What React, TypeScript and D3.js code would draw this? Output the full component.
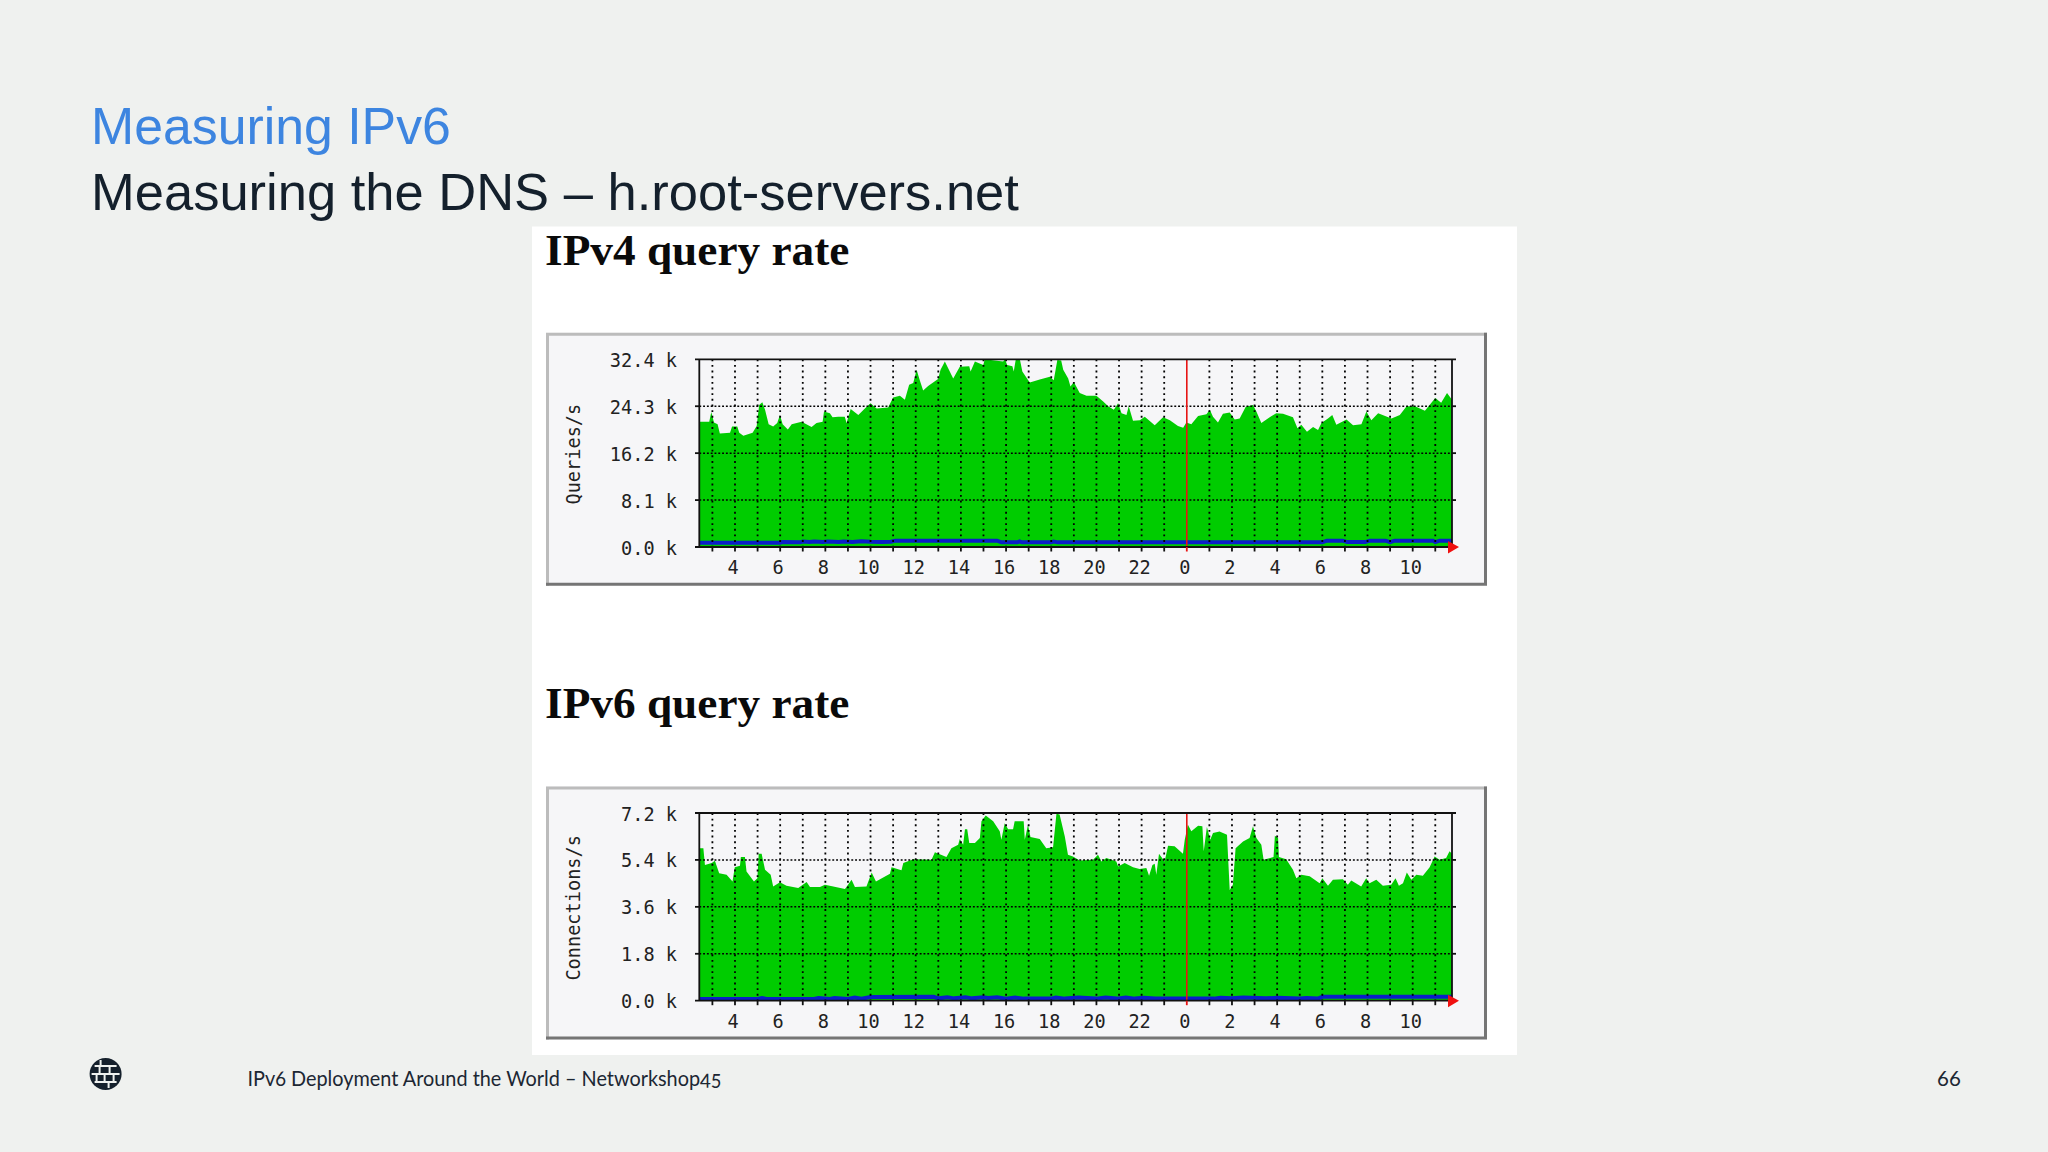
import * as d3 from "d3";

const WIDTH = 2048;
const HEIGHT = 1152;
const BG = "#eff1ef";
const MONO = "'DejaVu Sans Mono', monospace";

// hour of day on the time axis, values past 24 are the next morning
const HOUR_START = 2.42;
const HOUR_END = 35.74;
const HOUR_TICKS = d3.range(3, 36);
const HOUR_LABELS = d3.range(4, 35, 2);

const v4Ticks = [0, 8.1, 16.2, 24.3, 32.4];
const v4Hours = [
  2.42, 2.86, 2.95, 3.07, 3.23, 3.33, 3.78, 3.87, 4.1, 4.19, 4.37, 4.78, 4.96, 5.07, 5.21, 5.33, 5.49, 5.69, 5.87,
  5.99, 6.11, 6.34, 6.51, 6.95, 7.39, 7.61, 7.88, 7.94, 8.2, 8.32, 8.57, 8.86, 8.94, 9.12, 9.46, 9.75, 10.0, 10.27,
  10.78, 11.0, 11.3, 11.52, 11.71, 11.89, 12.04, 12.18, 12.33, 12.55, 12.99, 13.1, 13.29, 13.66, 13.95, 14.37, 14.43,
  14.62, 14.99, 15.06, 15.5, 15.87, 15.95, 16.05, 16.28, 16.34, 16.43, 16.61, 16.72, 16.98, 17.05, 17.49, 17.94,
  18.11, 18.27, 18.44, 18.53, 18.75, 18.85, 19.0, 19.26, 19.56, 20.0, 20.3, 20.52, 20.77, 20.96, 21.11, 21.33, 21.43,
  21.62, 21.92, 22.14, 22.58, 22.95, 23.25, 23.61, 23.84, 23.98, 24.2, 24.5, 24.87, 25.02, 25.16, 25.38, 25.6, 25.9,
  26.12, 26.34, 26.61, 26.93, 27.08, 27.3, 27.67, 27.96, 28.26, 28.7, 28.9, 29.07, 29.32, 29.59, 29.81, 29.96, 30.25,
  30.44, 30.62, 31.07, 31.36, 31.73, 31.95, 32.17, 32.47, 33.06, 33.43, 33.73, 34.1, 34.54, 35.0, 35.26, 35.52, 35.74,
];
const v4Values = [
  21.6, 21.6, 23.3, 21.5, 21.2, 19.6, 19.7, 20.8, 20.8, 19.7, 19.2, 19.7, 20.9, 24.5, 25.0, 23.7, 21.2, 20.8, 21.4,
  22.8, 21.2, 20.3, 21.2, 21.6, 20.7, 21.4, 21.6, 23.4, 23.1, 22.4, 22.5, 22.5, 21.4, 23.8, 22.8, 23.9, 24.8, 23.9,
  24.1, 25.8, 26.1, 25.4, 28.0, 28.3, 30.6, 28.8, 27.0, 27.8, 29.0, 30.6, 32.0, 29.1, 31.1, 31.2, 30.3,
  32.0, 31.4, 32.4, 32.2, 32.0, 32.4, 31.4, 31.2, 30.3, 32.4, 32.4, 30.3, 28.8, 28.4, 28.9, 29.4,
  28.8, 32.3, 32.2, 30.6, 29.1, 27.7, 28.5, 26.6, 26.1, 26.1, 25.1, 24.3, 23.7, 24.8, 23.1, 22.8, 24.3,
  21.8, 21.9, 22.5, 21.0, 22.4, 21.9, 20.9, 20.6, 21.5, 21.2, 22.6, 22.9, 23.7, 22.5, 21.5, 23.0, 23.2,
  22.0, 22.2, 24.2, 24.5, 23.4, 21.4, 22.4, 23.1, 23.0, 22.4, 20.5, 21.1, 19.9, 20.7, 20.2, 21.4, 22.2,
  22.8, 21.1, 22.0, 21.0, 21.2, 23.4, 21.9, 23.1, 22.2, 22.8, 24.3, 24.3, 23.5, 25.7, 24.9, 26.6, 25.4,
];
const v4BlueHours = [
  2.42, 6.0, 6.1, 6.9, 7.0, 7.3, 7.5, 7.9, 8.1, 8.6, 8.8, 9.2, 9.6, 10.0, 10.5, 10.9, 11.1, 15.6, 15.8, 16.5, 16.6,
  16.7, 18.0, 18.1, 18.3, 30.0, 30.2, 30.9, 31.1, 31.3, 31.9, 32.1, 32.8, 33.0, 33.2, 34.9, 35.0, 35.2, 35.74,
];
const v4BlueValues = [
  0.75, 0.75, 0.85, 0.8, 0.95, 0.85, 0.95, 0.85, 0.95, 0.85, 0.95, 0.85, 1.0, 0.9, 0.85, 0.9, 1.1, 1.1, 0.8, 0.8, 0.95,
  0.8, 0.8, 0.95, 0.8, 0.8, 1.1, 1.1, 0.85, 0.85, 0.85, 1.1, 1.1, 0.85, 1.1, 1.1, 0.85, 1.1, 1.1,
];

const v6Ticks = [0, 1.8, 3.6, 5.4, 7.2];
const v6Hours = [
  2.42, 2.6, 2.67, 2.97, 3.11, 3.3, 3.63, 3.89, 3.99, 4.22, 4.26, 4.44, 4.51, 4.84, 4.99, 5.05, 5.18, 5.33, 5.58, 5.69,
  5.99, 6.28, 6.8, 7.17, 7.32, 7.76, 7.98, 8.35, 8.87, 9.16, 9.31, 9.82, 10.05, 10.24, 10.56, 10.86, 10.93, 11.37,
  11.45, 11.89, 12.7, 12.85, 13.36, 13.58, 13.88, 13.95, 14.1, 14.18, 14.28, 14.37, 14.62, 14.84, 14.91, 15.1, 15.43,
  15.72, 15.79, 15.94, 16.09, 16.31, 16.38, 16.78, 16.83, 16.97, 17.08, 17.49, 17.78, 18.08, 18.23, 18.37, 18.6,
  18.74, 18.96, 19.26, 19.85, 20.07, 20.22, 20.44, 20.88, 20.96, 21.25, 21.62, 21.91, 22.21, 22.33, 22.48, 22.58,
  22.65, 22.77, 23.02, 23.17, 23.46, 23.83, 23.91, 24.05, 24.2, 24.5, 24.69, 24.75, 24.89, 25.04, 25.16, 25.45, 25.78,
  25.9, 26.04, 26.16, 26.49, 26.78, 26.93, 27.08, 27.3, 27.4, 27.84, 27.9, 28.04, 28.08, 28.4, 28.7, 28.85, 29.07,
  29.44, 29.88, 30.0, 30.25, 30.47, 30.91, 31.13, 31.28, 31.72, 31.94, 32.09, 32.39, 32.68, 33.05, 33.24, 33.39,
  33.57, 33.74, 33.94, 34.16, 34.45, 34.75, 34.97, 35.19, 35.48, 35.63, 35.74,
];
const v6Values = [
  5.85, 5.85, 5.21, 5.28, 5.37, 4.89, 4.83, 4.57, 5.12, 5.18, 5.51, 5.51, 4.96, 4.57, 4.7, 5.64, 5.64, 5.02, 4.83, 4.38,
  4.54, 4.41, 4.32, 4.55, 4.36, 4.36, 4.45, 4.38, 4.28, 4.64, 4.36, 4.38, 4.92, 4.57, 4.73, 4.87, 5.12, 5.0,
  5.28, 5.43, 5.41, 5.69, 5.51, 5.85, 5.98, 6.2, 5.98, 6.58, 6.58, 6.05, 6.05, 6.24, 6.88, 7.1, 6.88,
  6.5, 6.17, 6.81, 6.58, 6.58, 6.88, 6.88, 6.17, 6.75, 6.28, 6.2, 5.85, 5.89, 7.17, 7.14, 6.3,
  5.6, 5.53, 5.38, 5.41, 5.6, 5.34, 5.47, 5.34, 5.15, 5.28, 5.12, 5.05, 5.09, 4.79, 5.21, 5.25,
  4.83, 5.64, 5.34, 5.94, 5.92, 5.64, 6.17, 6.75, 6.5, 6.71, 6.69, 5.73, 6.66, 6.17, 6.43, 6.49, 6.37,
  4.25, 4.45, 5.85, 6.11, 6.24, 6.69, 6.24, 5.98, 5.41, 5.51, 6.33, 6.24, 5.51, 5.43, 5.02, 4.7, 4.83,
  4.77, 4.51, 4.7, 4.41, 4.64, 4.66, 4.45, 4.61, 4.38, 4.7, 4.51, 4.64, 4.41, 4.45, 4.7, 4.41,
  4.51, 4.92, 4.64, 4.83, 4.79, 5.12, 5.53, 5.41, 5.47, 5.73, 5.64,
];
const v6BlueHours = [
  2.42, 5.0, 5.2, 5.4, 7.5, 7.7, 8.2, 8.4, 9.0, 9.3, 9.6, 10.0, 12.8, 13.0, 13.4, 13.7, 14.2, 14.5, 15.0, 15.2, 15.6,
  16.0, 16.4, 16.8, 18.0, 18.2, 18.6, 19.2, 20.0, 20.4, 20.9, 21.3, 21.7, 22.1, 22.6, 23.0, 25.2, 25.5, 26.0, 26.5,
  27.5, 28.0, 29.0, 29.3, 29.8, 30.0, 35.74,
];
const v6BlueValues = [
  0.07, 0.07, 0.1, 0.07, 0.07, 0.1, 0.07, 0.1, 0.07, 0.12, 0.08, 0.14, 0.15, 0.09, 0.13, 0.09, 0.13, 0.09, 0.13, 0.1,
  0.13, 0.08, 0.12, 0.08, 0.08, 0.12, 0.08, 0.12, 0.08, 0.12, 0.08, 0.12, 0.08, 0.11, 0.08, 0.08, 0.08, 0.11, 0.09,
  0.12, 0.09, 0.11, 0.08, 0.1, 0.08, 0.15, 0.15,
];

function RrdPanel({ top, title, yLabel, ticks, hours, values, blueHours, blueValues }: {
  top: number;
  title: string;
  yLabel: string;
  ticks: number[];
  hours: number[];
  values: number[];
  blueHours: number[];
  blueValues: number[];
}) {
  const x0 = 699.3;
  const x1 = 1452;
  const y0 = top + 214.3;
  const y1 = top + 26.6;
  const frame = { left: 546, right: 1487, top, bottom: top + 253 };

  const x = d3.scaleLinear().domain([HOUR_START, HOUR_END]).range([x0, x1]);
  const y = d3.scaleLinear().domain([0, ticks[ticks.length - 1]]).range([y0, y1]);

  const area = d3
    .area<number>()
    .x((_, i) => x(hours[i]))
    .y0(y0)
    .y1((d) => y(d));
  const blue = d3
    .line<number>()
    .x((_, i) => x(blueHours[i]))
    .y((d) => y(d));

  return (
    <g>
      <text x={545} y={top - 68} fontFamily="'Liberation Serif', serif" fontWeight="bold" fontSize={45.3} fill="#0a0a0a">
        {title}
      </text>
      <rect x={frame.left} y={frame.top} width={frame.right - frame.left} height={frame.bottom - frame.top} fill="#f6f6f8" />
      <path
        d={`M${frame.left + 1.5},${frame.bottom}V${frame.top + 1.5}H${frame.right}`}
        fill="none"
        stroke="#bcbcbc"
        strokeWidth={3}
      />
      <path
        d={`M${frame.left},${frame.bottom - 1.5}H${frame.right - 1.5}V${frame.top}`}
        fill="none"
        stroke="#757575"
        strokeWidth={3}
      />

      <path d={area(values) ?? ""} fill="#00cc00" />
      <path d={blue(blueValues) ?? ""} fill="none" stroke="#0a1fc8" strokeWidth={4} />

      {HOUR_TICKS.map((h) =>
        h === 24 ? null : (
          <line key={h} x1={x(h)} x2={x(h)} y1={y1} y2={y0} stroke="#000" strokeWidth={1.8} strokeDasharray="1.9 3.75" />
        )
      )}
      {ticks.slice(1, -1).map((t) => (
        <line key={t} x1={x0} x2={x1} y1={y(t)} y2={y(t)} stroke="#000" strokeWidth={1.5} strokeDasharray="1.9 1.9" />
      ))}
      <line x1={x(24)} x2={x(24)} y1={y1} y2={y0} stroke="#e81414" strokeWidth={1.6} />

      {/* plot border and tick stubs */}
      <line x1={695} x2={1456} y1={y1} y2={y1} stroke="#111" strokeWidth={1.8} />
      <line x1={695} x2={1452} y1={y0} y2={y0} stroke="#111" strokeWidth={1.8} />
      <line x1={x0} x2={x0} y1={y1} y2={y0} stroke="#111" strokeWidth={1.8} />
      <line x1={x1} x2={x1} y1={y1} y2={y0} stroke="#111" strokeWidth={1.8} />
      {ticks.slice(1, -1).map((t) => (
        <g key={t}>
          <line x1={695} x2={x0} y1={y(t)} y2={y(t)} stroke="#111" strokeWidth={1.8} />
          <line x1={x1} x2={1456} y1={y(t)} y2={y(t)} stroke="#111" strokeWidth={1.8} />
        </g>
      ))}
      {HOUR_TICKS.map((h) => (
        <line key={h} x1={x(h)} x2={x(h)} y1={y0} y2={y0 + 4.5} stroke={h === 24 ? "#e81414" : "#111"} strokeWidth={1.8} />
      ))}
      <path
        d={`M${x1 - 4},${y0 - 6}L${x1 + 7},${y0}L${x1 - 4},${y0 + 6.5}Z`}
        fill="#f01010"
      />

      {ticks.map((t) => (
        <text key={t} x={677} y={y(t) + 7.5} textAnchor="end" fontFamily={MONO} fontSize={18.6} fill="#222">
          {`${t.toFixed(1)} k`}
        </text>
      ))}
      {HOUR_LABELS.map((h) => (
        <text key={h} x={x(h) - 2} y={y0 + 27} textAnchor="middle" fontFamily={MONO} fontSize={18.6} fill="#222">
          {h % 24}
        </text>
      ))}
      <text
        transform={`translate(580,${(y0 + y1) / 2 + 1}) rotate(-90)`}
        textAnchor="middle"
        fontFamily={MONO}
        fontSize={18.6}
        fill="#222"
      >
        {yLabel}
      </text>
    </g>
  );
}

function GlobeIcon() {
  const cx = 105.6;
  const cy = 1074;
  const r = 16;
  const bars = [
    [cx - 11, cy - 8, cx + 11, cy - 8],
    [cx - 14, cy, cx + 14, cy],
    [cx - 11, cy + 8, cx + 11, cy + 8],
    [cx - 5, cy - 14, cx - 5, cy - 8],
    [cx + 4, cy - 8, cx + 4, cy],
    [cx - 6, cy - 8, cx - 6, cy],
    [cx - 1, cy, cx - 1, cy + 8],
    [cx + 8, cy, cx + 8, cy + 8],
    [cx - 9, cy, cx - 9, cy + 8],
    [cx + 3, cy + 8, cx + 3, cy + 14],
  ];
  return (
    <g>
      <circle cx={cx} cy={cy} r={r} fill="#15202c" />
      {bars.map((b, i) => (
        <line key={i} x1={b[0]} y1={b[1]} x2={b[2]} y2={b[3]} stroke={BG} strokeWidth={2} />
      ))}
    </g>
  );
}

export default function App() {
  return (
    <svg width={WIDTH} height={HEIGHT} style={{ position: "absolute", left: 0, top: 0, display: "block" }}>
      <rect width={WIDTH} height={HEIGHT} fill={BG} />
      <text x={91} y={144} fontFamily="'Liberation Sans', sans-serif" fontSize={51.8} fill="#3d85e0">
        Measuring IPv6
      </text>
      <text x={91} y={210} fontFamily="'Liberation Sans', sans-serif" fontSize={52.5} fill="#14202c">
        Measuring the DNS – h.root-servers.net
      </text>

      <rect x={532} y={226.5} width={985} height={828.5} fill="#fff" />
      <RrdPanel
        top={332.7}
        title="IPv4 query rate"
        yLabel="Queries/s"
        ticks={v4Ticks}
        hours={v4Hours}
        values={v4Values}
        blueHours={v4BlueHours}
        blueValues={v4BlueValues}
      />
      <RrdPanel
        top={786.4}
        title="IPv6 query rate"
        yLabel="Connections/s"
        ticks={v6Ticks}
        hours={v6Hours}
        values={v6Values}
        blueHours={v6BlueHours}
        blueValues={v6BlueValues}
      />

      <GlobeIcon />
      <text
        x={247.5}
        y={1086}
        fontFamily="Lato, sans-serif"
        fontSize={20.5}
        fill="#1c2733"
        textLength={474}
        lengthAdjust="spacingAndGlyphs"
        style={{ fontFeatureSettings: "'onum'" }}
      >
        IPv6 Deployment Around the World – Networkshop45
      </text>
      <text x={1937} y={1086} fontFamily="Lato, sans-serif" fontSize={20.5} fill="#1c2733">
        66
      </text>
    </svg>
  );
}
